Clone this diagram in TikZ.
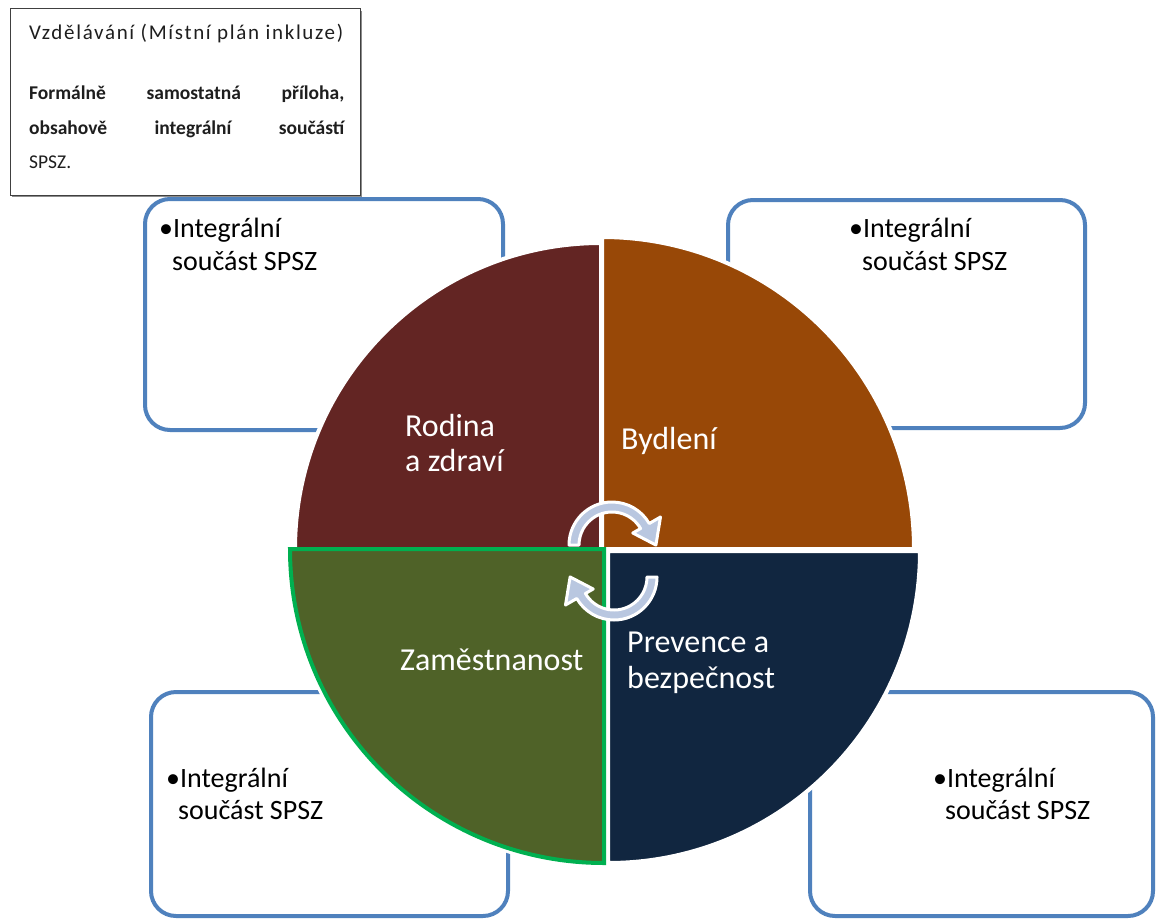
\documentclass[tikz,border=0pt]{standalone}
\usepackage{fontspec}
\setmainfont{Carlito}
\definecolor{boxblue}{RGB}{79,129,189}
\definecolor{qmaroon}{RGB}{99,37,35}
\definecolor{qorange}{RGB}{152,72,7}
\definecolor{qnavy}{RGB}{17,38,64}
\definecolor{qolive}{RGB}{79,98,40}
\definecolor{qgreen}{RGB}{0,176,80}
\definecolor{arrowblue}{RGB}{185,199,224}
\definecolor{txtgray}{RGB}{30,30,30}
\begin{document}
\begin{tikzpicture}[x=1pt,y=-1pt,
  sidebox/.style={draw=boxblue, line width=4pt, rounded corners=25pt, fill=white},
  quarterlab/.style={text=white, font=\fontsize{32}{38}\selectfont, anchor=base west, inner sep=0pt},
  boxlab/.style={text=black, font=\fontsize{28}{33}\selectfont, anchor=base west, inner sep=0pt},
  notelab/.style={text=txtgray, anchor=base west, inner sep=0pt},
  cyclearrow/.style={fill=arrowblue, draw=white, line width=3pt, line join=round}]
\useasboundingbox (0,0) rectangle (1158,920);
\fill[white] (0,0) rectangle (1158,920);

% side boxes
\draw[sidebox] (145,199) rectangle (503,430);
\draw[sidebox] (728,200) rectangle (1085,428);
\draw[sidebox] (151,692) rectangle (508,916);
\draw[sidebox] (810,692) rectangle (1153,916);

% note box
\fill[black!45] (12,11) rectangle (362,197);
\draw[black!75, line width=1pt, fill=white] (10,9) rectangle (360,195);
\node[notelab, font=\fontsize{21}{25}\selectfont\addfontfeature{LetterSpace=8}] (title) at (29,40) {Vzdělávání (Místní plán inkluze)};
\node[notelab, font=\bfseries\fontsize{19.5}{23}\selectfont] (body1) at (29,100) {\makebox[315pt][s]{Formálně samostatná příloha,}};
\node[notelab, font=\bfseries\fontsize{19.5}{23}\selectfont] (body2) at (29,135) {\makebox[315pt][s]{obsahově integrální součástí}};
\node[notelab, font=\fontsize{19.5}{23}\selectfont] (body3) at (29,168) {SPSZ.};

% quarters
\draw[white, line width=10pt] (604,549) -- ++(0,314) arc[start angle=90, end angle=180, radius=314] -- cycle;
\path[fill=qmaroon, draw=white, line width=4pt] (601,549) -- ++(-306,0) arc[start angle=180, end angle=270, radius=306] -- cycle;
\path[fill=qorange, draw=white, line width=4pt] (602,549) -- ++(0,-312) arc[start angle=270, end angle=360, radius=312] -- cycle;
\path[fill=qnavy, draw=white, line width=4pt] (608,551) -- ++(312,0) arc[start angle=0, end angle=90, radius=312] -- cycle;
\path[fill=qolive, draw=qgreen, line width=4pt] (604,549) -- ++(0,314) arc[start angle=90, end angle=180, radius=314] -- cycle;

% cycle arrows
\begin{scope}[shift={(612,545)}]
\path[cyclearrow] (180:33) -- (180:43) arc[start angle=180, end angle=330, radius=43] -- (330:56) -- (43.9,0.05) -- (330:24) -- (330:33) arc[start angle=330, end angle=180, radius=33] -- cycle;
\end{scope}
\begin{scope}[shift={(614,577)}, rotate=180]
\path[cyclearrow] (180:33) -- (180:43) arc[start angle=180, end angle=330, radius=43] -- (330:56) -- (43.9,0.05) -- (330:24) -- (330:33) arc[start angle=330, end angle=180, radius=33] -- cycle;
\end{scope}

% quarter labels
\node[quarterlab] (rod1) at (405,436) {Rodina};
\node[quarterlab] (rod2) at (405,471) {a zdraví};
\node[quarterlab] (byd) at (621,449) {Bydlení};
\node[quarterlab] (zam) at (400,670) {Zaměstnanost};
\node[quarterlab] (pre1) at (627,652) {Prevence a};
\node[quarterlab] (pre2) at (627,688) {bezpečnost};

% box labels
\node[boxlab] (tl1) at (159,237) {•Integrální};
\node[boxlab] (tl2) at (172,270) {součást SPSZ};
\node[boxlab] (tr1) at (849,237) {•Integrální};
\node[boxlab] (tr2) at (862,270) {součást SPSZ};
\node[boxlab] (bl1) at (166,787) {•Integrální};
\node[boxlab] (bl2) at (178,819) {součást SPSZ};
\node[boxlab] (br1) at (933,787) {•Integrální};
\node[boxlab] (br2) at (945,819) {součást SPSZ};
\end{tikzpicture}
\end{document}
